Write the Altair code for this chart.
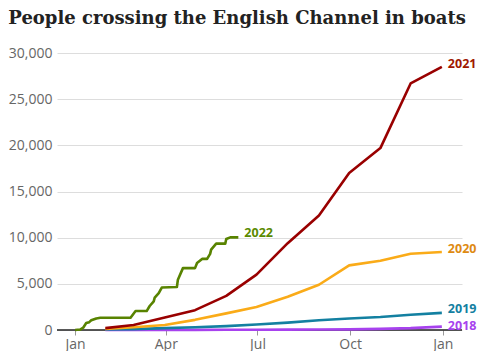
import altair as alt
import pandas as pd

# Month-end cumulative totals (dates mapped onto one common year)
month_ends = ["01-31", "02-28", "03-31", "04-30", "05-31", "06-30",
              "07-31", "08-31", "09-30", "10-31", "11-30", "12-31"]
v2018 = [0, 5, 10, 15, 20, 30, 40, 50, 70, 120, 200, 370]
v2019 = [50, 100, 200, 300, 420, 600, 800, 1050, 1250, 1400, 1650, 1850]
v2020 = [100, 300, 550, 1100, 1800, 2500, 3600, 4900, 7000, 7500, 8250, 8450]
v2021 = [200, 550, 1350, 2150, 3700, 6000, 9400, 12400, 17000, 19700, 26700, 28500]

# 2022 running total (daily steps, read at the turning points)
d2022 = ["01-01", "01-06", "01-09", "01-12", "01-15", "01-17", "01-22", "01-26",
         "02-25", "03-02", "03-13", "03-16", "03-20", "03-21", "03-25", "03-28",
         "04-12", "04-13", "04-18", "04-30", "05-02", "05-07", "05-12", "05-15",
         "05-16", "05-21", "05-30", "05-31", "06-04", "06-12"]
v2022 = [0, 50, 250, 750, 850, 1050, 1250, 1330,
         1330, 2050, 2050, 2600, 3100, 3500, 4000, 4600,
         4650, 5450, 6700, 6700, 7250, 7700, 7700, 8250,
         8700, 9350, 9350, 9850, 10030, 10030]

years = ["2018", "2019", "2020", "2021", "2022"]
line_colors = ["#a742ee", "#1380A1", "#FAAB18", "#990000", "#588300"]
label_colors = ["#a742ee", "#1380A1", "#de8a12", "#a01800", "#5a8a00"]
label_dy = [-1, -4, -3, -3, -4]

y_ticks = [0, 5000, 10000, 15000, 20000, 25000, 30000]
title_text = "People crossing the English Channel in boats"

series = {
    "2018": (month_ends, v2018),
    "2019": (month_ends, v2019),
    "2020": (month_ends, v2020),
    "2021": (month_ends, v2021),
    "2022": (d2022, v2022),
}

rows = []
for yr, (ds, vs) in series.items():
    for d, v in zip(ds, vs):
        rows.append({"year": yr, "date": "2001-" + d, "value": v})
df = pd.DataFrame(rows)

last = df.groupby("year").tail(1).reset_index(drop=True)

x_enc = alt.X(
    "date:T",
    scale=alt.Scale(
        type="utc",
        domain=[alt.DateTime(year=2000, month=12, date=14, utc=True),
                alt.DateTime(year=2002, month=1, date=20, utc=True)],
    ),
    axis=alt.Axis(
        values=[alt.DateTime(year=2001, month=1, date=1, utc=True),
                alt.DateTime(year=2001, month=4, date=1, utc=True),
                alt.DateTime(year=2001, month=7, date=1, utc=True),
                alt.DateTime(year=2001, month=10, date=1, utc=True),
                alt.DateTime(year=2002, month=1, date=1, utc=True)],
        labelExpr="utcFormat(datum.value, '%b')",
        title=None, grid=False, domain=False,
        tickColor="#999999", tickSize=5, tickWidth=1,
        labelFont="Open Sans", labelFontSize=14, labelColor="#666666",
        labelPadding=2,
    ),
)
y_enc = alt.Y(
    "value:Q",
    scale=alt.Scale(domain=[0, 30000], nice=False),
    axis=alt.Axis(
        values=y_ticks, labelExpr="format(datum.value, ',')",
        title=None, domain=False, ticks=False,
        gridColor="#dddddd", gridWidth=1,
        labelFont="Open Sans", labelFontSize=14, labelColor="#666666",
        labelPadding=5,
    ),
)

zero = alt.Chart(pd.DataFrame({"value": [0]})).mark_rule(
    color="#222222", strokeWidth=1.5
).encode(y=y_enc)

lines = alt.Chart(df).mark_line(strokeWidth=2.6, strokeJoin="round").encode(
    x=x_enc,
    y=y_enc,
    color=alt.Color("year:N", scale=alt.Scale(domain=years, range=line_colors), legend=None),
    order=alt.Order("date:T"),
)

labels = []
for yr, col, dy in zip(years, label_colors, label_dy):
    labels.append(
        alt.Chart(last[last["year"] == yr]).mark_text(
            align="left", baseline="middle", dx=6, dy=dy,
            font="Open Sans", fontSize=12.5, fontWeight="bold", color=col,
        ).encode(x=x_enc, y=y_enc, text="year:N")
    )

chart = alt.layer(zero, lines, *labels).properties(
    width=405,
    height=277,
    padding={"left": 0, "top": 2, "right": 0, "bottom": 0},
    title=alt.TitleParams(
        title_text, anchor="start", frame="bounds",
        font="DejaVu Serif", fontSize=18, fontWeight="bold",
        color="#222222", offset=18,
    ),
).configure_view(stroke=None)

chart.save("out.html", embed_options={"renderer": "svg", "actions": False})
